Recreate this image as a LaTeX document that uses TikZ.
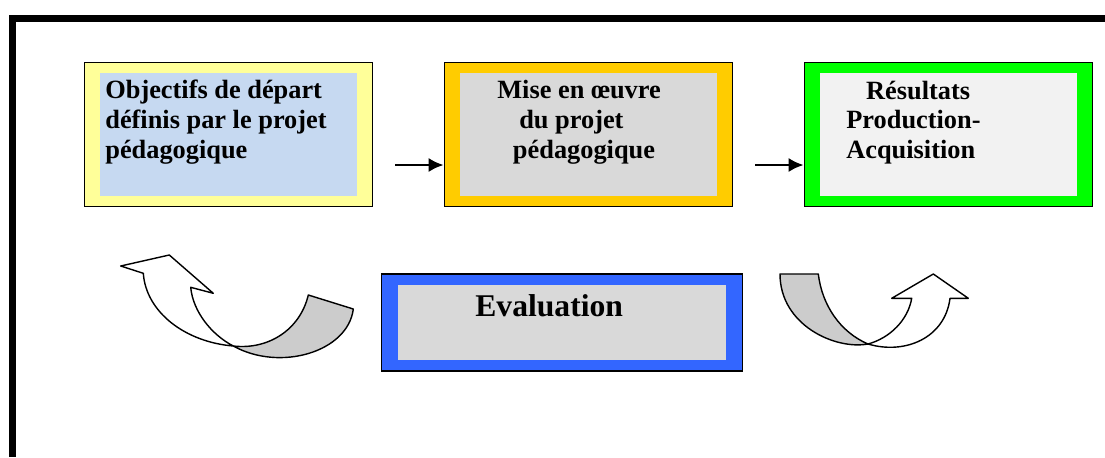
\documentclass[tikz,border=0pt]{standalone}
\usepackage{fontspec}
\setmainfont{Liberation Serif}
\usetikzlibrary{arrows.meta}
\definecolor{jaune}{HTML}{FFFF99}
\definecolor{bleuclair}{HTML}{C6D9F1}
\definecolor{orange}{HTML}{FFCC00}
\definecolor{grisclair}{HTML}{D9D9D9}
\definecolor{vert}{HTML}{00FF00}
\definecolor{blanccasse}{HTML}{F2F2F2}
\definecolor{bleu}{HTML}{3366FF}
\definecolor{ruban}{HTML}{CCCCCC}
\begin{document}
\begin{tikzpicture}[x=0.02cm,y=-0.02cm,
	cadre/.style={draw=black,line width=0.8pt,minimum width=5.76cm,minimum height=2.88cm,inner sep=0pt},
	fond/.style={minimum width=5.13cm,minimum height=2.45cm,inner sep=0pt},
	texte/.style={anchor=base west,align=left,inner sep=0pt,font=\bfseries\fontsize{15}{17}\selectfont},
	fleche/.style={line width=1.4pt,-{Latex[length=8.5pt,width=8pt]}},
	bande/.style={draw=black,line width=0.8pt,line join=round}]
	\useasboundingbox (0,0) rectangle (1105,457);
	% cadre general
	\draw [line width=3.97pt] (1105,18.5) -- (12.3,18.5) -- (12.3,457);
	
	% base = ligne du bas
	\node [cadre,fill=jaune] (objectifs) at (228.3,134.7) {};
	\node [fond,fill=bleuclair] (objectifsfond) at (objectifs) {};
	\node [texte] (objectifstxt) at (105,158.3) {Objectifs de départ\\définis par le projet\\pédagogique};
	
	\node [cadre,fill=orange] (mise) at (588.3,134.7) {};
	\node [fond,fill=grisclair] (misefond) at (mise) {};
	\node [texte] (misetxt) at (497,158.5) {Mise en œuvre\\\hspace*{12.5pt}du projet\\\hspace*{8.9pt}pédagogique};
	
	\node [cadre,fill=vert] (resultats) at (948.3,134.7) {};
	\node [fond,fill=blanccasse] (resultatsfond) at (resultats) {};
	\node [texte] (resultatstxt) at (846,158.8) {\hspace*{11.3pt}Résultats\\Production-\\Acquisition};
	
	\node [cadre,fill=bleu,minimum width=7.21cm,minimum height=1.94cm] (evaluation) at (562,322.5) {};
	\node [fond,fill=grisclair,minimum width=6.56cm,minimum height=1.49cm] (evaluationfond) at (evaluation) {};
	\node [texte,font=\bfseries\fontsize{18}{21}\selectfont] (evaluationtxt) at (475,316) {Evaluation};
	
	\coordinate (depart1) at (395,165);
	\coordinate (depart2) at (755,165);
	\draw [fleche] (depart1) -- (depart1 -| mise.west);
	\draw [fleche] (depart2) -- (depart2 -| resultats.west);
	
	% fleche courbe gauche
	\draw [bande,fill=ruban] (233.3,346) .. controls (268,350) and (300,330) .. (308.3,295) -- (353.3,309) .. controls (348,352) and (280,372) .. (233.3,346) -- cycle;
	\draw [bande,fill=white] (143.3,273.3) .. controls (146,312) and (185,342) .. (233.3,346) .. controls (212,335) and (193,312) .. (190.7,287.3) -- (213.3,293.3) -- (169.3,255) -- (120.7,266) -- cycle;
	
	% fleche courbe droite
	\draw [bande,fill=ruban] (780,274) -- (818.3,274) .. controls (822,305) and (840,332) .. (868,344) .. controls (835,350) and (780,325) .. (780,274) -- cycle;
	\draw [bande,fill=white] (868,344) .. controls (890,338) and (908,320) .. (911.7,298.3) -- (891.7,298.3) -- (933.3,274) -- (968.3,298.3) -- (950,298.3) .. controls (945,338) and (905,355) .. (868,344) -- cycle;
\end{tikzpicture}
\end{document}
